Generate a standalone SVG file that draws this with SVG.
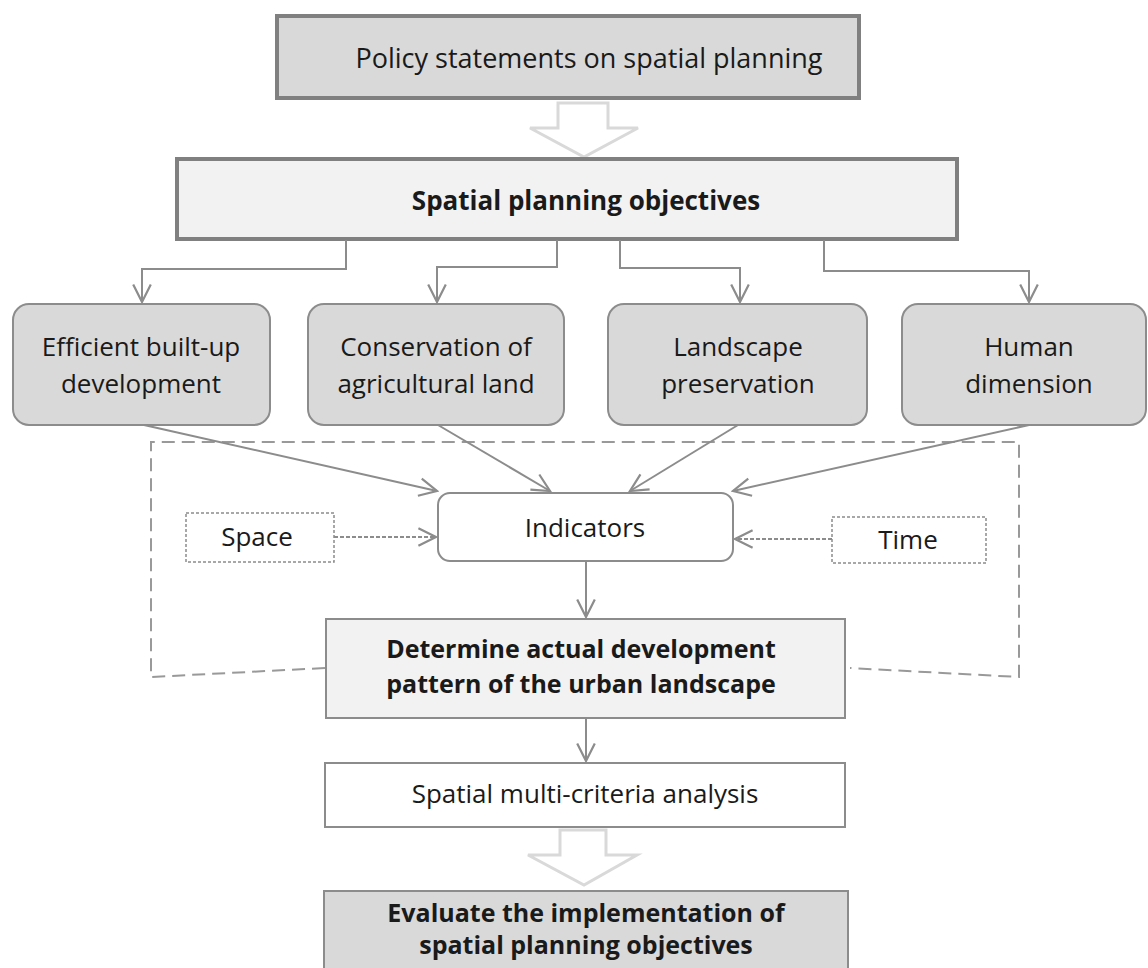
<svg xmlns="http://www.w3.org/2000/svg" width="1148" height="968" viewBox="0 0 1148 968">
<defs>
<style>
text{font-family:"Open Sans","Liberation Sans",sans-serif;fill:#1a1a1a;text-anchor:middle}
.t{font-size:26px}
.b{font-size:25px;font-weight:bold}
.obj rect{fill:#d9d9d9;stroke:#8c8c8c;stroke-width:2}
.con{fill:none;stroke:#8c8c8c;stroke-width:2}
.hollow{fill:#fff;stroke:#d9d9d9;stroke-width:3}
</style>
<marker id="ah" viewBox="0 0 20 20" refX="18" refY="10" markerWidth="22" markerHeight="22" markerUnits="userSpaceOnUse" orient="auto">
<path d="M2,2 L18,10 L2,18" fill="none" stroke="#8c8c8c" stroke-width="2"/>
</marker>
</defs>
<rect width="1148" height="968" fill="#fff"/>

<g id="policy">
<rect x="277" y="16" width="582" height="82" fill="#d9d9d9" stroke="#808080" stroke-width="4"/>
<text class="t" x="589" y="68" style="font-size:27px">Policy statements on spatial planning</text>
</g>
<g id="arrow1">
<path class="hollow" d="M558,103 H608 V128 H638 L584,157 L530,128 H558 Z"/>
</g>
<g id="objectives">
<rect x="177" y="159" width="780" height="80" fill="#f2f2f2" stroke="#808080" stroke-width="4"/>
<text class="b" x="586" y="210" style="font-size:26px">Spatial planning objectives</text>
</g>

<g id="efficient" class="obj">
<rect x="13" y="304" width="257" height="121" rx="16"/>
<text class="t" x="141" y="356">Efficient built-up</text>
<text class="t" x="141" y="393">development</text>
</g>
<g id="conservation" class="obj">
<rect x="308" y="304" width="256" height="121" rx="16"/>
<text class="t" x="436" y="356">Conservation of</text>
<text class="t" x="436" y="393">agricultural land</text>
</g>
<g id="landscape" class="obj">
<rect x="608" y="304" width="259" height="121" rx="16"/>
<text class="t" x="738" y="356">Landscape</text>
<text class="t" x="738" y="393">preservation</text>
</g>
<g id="human" class="obj">
<rect x="902" y="304" width="244" height="121" rx="16"/>
<text class="t" x="1029" y="356">Human</text>
<text class="t" x="1029" y="393">dimension</text>
</g>

<g id="frame">
<path d="M325,668 L151,677 V442 H1019 V677 L850,668" fill="none" stroke="#999" stroke-width="2" stroke-dasharray="13,7"/>
</g>

<g id="space">
<rect x="186" y="513" width="148" height="49" fill="#fff" stroke="#8c8c8c" stroke-width="1.5" stroke-dasharray="3,2"/>
<text class="t" x="257" y="546">Space</text>
</g>
<g id="time">
<rect x="832" y="517" width="154" height="46" fill="#fff" stroke="#8c8c8c" stroke-width="1.5" stroke-dasharray="3,2"/>
<text class="t" x="908" y="549">Time</text>
</g>
<g id="indicators">
<rect x="438" y="493" width="295" height="68" rx="12" fill="#fff" stroke="#8c8c8c" stroke-width="2"/>
<text class="t" x="585" y="537">Indicators</text>
</g>

<g id="determine">
<rect x="326" y="619" width="519" height="99" fill="#f2f2f2" stroke="#8c8c8c" stroke-width="2"/>
<text class="b" x="581" y="658">Determine actual development</text>
<text class="b" x="581" y="693">pattern of the urban landscape</text>
</g>
<g id="smca">
<rect x="325" y="763" width="520" height="64" fill="#fff" stroke="#8c8c8c" stroke-width="2"/>
<text class="t" x="585" y="803">Spatial multi-criteria analysis</text>
</g>
<g id="arrow2">
<path class="hollow" d="M560,830 H606 V855 H637 L584,885 L528,855 H560 Z"/>
</g>
<g id="evaluate">
<rect x="324" y="891" width="524" height="90" fill="#d9d9d9" stroke="#8c8c8c" stroke-width="2"/>
<text class="b" x="586" y="922">Evaluate the implementation of</text>
<text class="b" x="586" y="954">spatial planning objectives</text>
</g>

<g id="connectors" class="con">
<path class="con" d="M346,240 V269 H142 V302" marker-end="url(#ah)"/>
<path class="con" d="M557,240 V267 H437 V302" marker-end="url(#ah)"/>
<path class="con" d="M620,240 V268 H740 V302" marker-end="url(#ah)"/>
<path class="con" d="M824,240 V271 H1029 V302" marker-end="url(#ah)"/>
<path class="con" d="M144,425 L437,491" marker-end="url(#ah)"/>
<path class="con" d="M438,425 L550,491" marker-end="url(#ah)"/>
<path class="con" d="M738,425 L630,491" marker-end="url(#ah)"/>
<path class="con" d="M1029,425 L733,491" marker-end="url(#ah)"/>
<path class="con" d="M334,537 L436,537" stroke-dasharray="4,2" marker-end="url(#ah)"/>
<path class="con" d="M832,539 L735,539" stroke-dasharray="4,2" marker-end="url(#ah)"/>
<path class="con" d="M586,561 V617" marker-end="url(#ah)"/>
<path class="con" d="M586,718 V761" marker-end="url(#ah)"/>
</g>
</svg>
